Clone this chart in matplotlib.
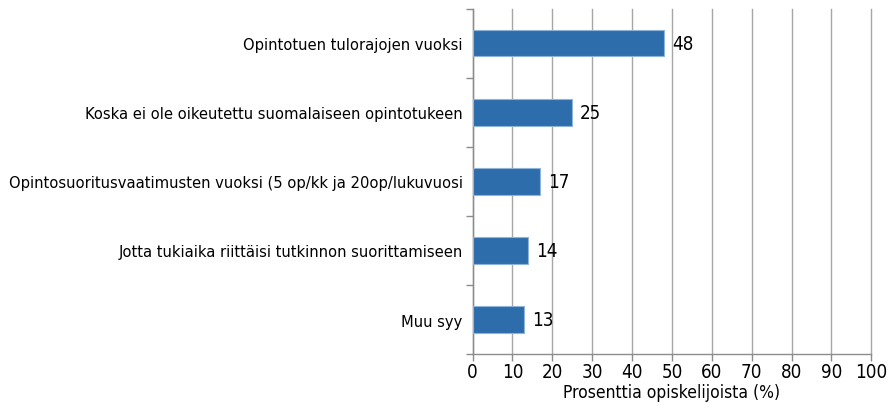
import matplotlib
matplotlib.use("Agg")
import matplotlib.pyplot as plt
from matplotlib.ticker import MultipleLocator, FixedLocator

plt.rcParams["font.family"] = ["DejaVu Sans"]
plt.rcParams["font.stretch"] = "condensed"

syyt = [
    "Opintotuen tulorajojen vuoksi",
    "Koska ei ole oikeutettu suomalaiseen opintotukeen",
    "Opintosuoritusvaatimusten vuoksi (5 op/kk ja 20op/lukuvuosi",
    "Jotta tukiaika riittäisi tutkinnon suorittamiseen",
    "Muu syy",
]
prosentit = [48, 25, 17, 14, 13]

fig = plt.figure(figsize=(8.9, 4.1), dpi=100)
ax = fig.add_axes([0.531, 0.134, 0.448, 0.842])

paikat = list(range(len(syyt)))[::-1]
ax.barh(paikat, prosentit, height=0.38, color="#2e6dab", edgecolor="#8fb4d9", linewidth=0.8, zorder=3)

for p, v in zip(paikat, prosentit):
    ax.text(v + 2, p, str(v), va="center", ha="left", fontsize=13.5, color="black")

ax.set_xlim(0, 100)
ax.set_ylim(-0.5, len(syyt) - 0.5)
ax.xaxis.set_major_locator(MultipleLocator(10))
ax.grid(axis="x", color="#a6a6a6", linewidth=1.0, zorder=0)
for viiva in ax.get_xgridlines():
    viiva.set_clip_on(False)

ax.set_yticks(paikat)
ax.set_yticklabels(syyt, fontsize=11.8)
ax.yaxis.set_minor_locator(FixedLocator([i - 0.5 for i in range(len(syyt) + 1)]))
ax.tick_params(axis="y", which="major", length=0, pad=7)
ax.tick_params(axis="y", which="minor", length=5, color="#8c8c8c", width=1)
ax.tick_params(axis="x", length=5, color="#8c8c8c", width=1, labelsize=13.5, pad=1)

for s in ["top", "right"]:
    ax.spines[s].set_visible(False)
for s in ["left", "bottom"]:
    ax.spines[s].set_color("#8c8c8c")
    ax.spines[s].set_linewidth(1.0)

ax.set_xlabel("Prosenttia opiskelijoista (%)", fontsize=12.5, labelpad=1)

fig.savefig("out.png", dpi=100)
